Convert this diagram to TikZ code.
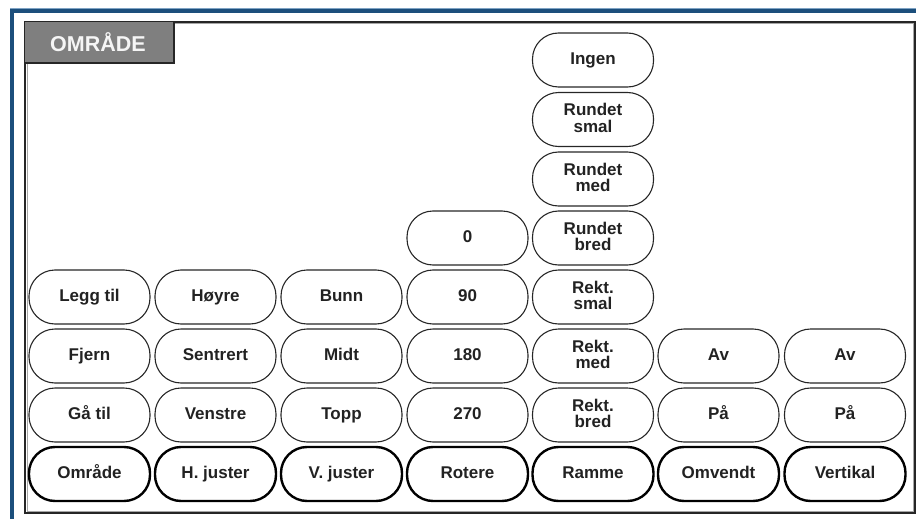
\documentclass[tikz,border=0pt]{standalone}
\usepackage{fontspec}
\setmainfont{Liberation Sans}
\definecolor{frameblue}{HTML}{1C4F7C}
\definecolor{lightblue}{HTML}{7FA3C4}
\definecolor{tabgray}{HTML}{7F7F7F}
\definecolor{txt}{HTML}{222222}
\newcommand\topstrut{\rule{0pt}{13.5pt}}
\newcommand\botstrut{\rule[-4.5pt]{0pt}{4.5pt}}
\begin{document}
\begin{tikzpicture}[x=1pt,y=-1pt,
  btn/.style={draw=black!85, line width=1.1pt, rounded corners=26pt,
    minimum width=121pt, minimum height=54pt, inner sep=0pt, align=center,
    font=\fontsize{17}{16.5}\selectfont\bfseries, text=txt},
  btnmain/.style={btn, draw=black, line width=2.4pt},
  tabtext/.style={font=\fontsize{21.5}{21.5}\selectfont\bfseries, text=white!96!black}
]
\useasboundingbox (0,0) rectangle (916,519);
% blue outer frame (top and left)
\draw[lightblue, line width=1pt] (10,8.5) -- (916,8.5);
\draw[frameblue, line width=4pt] (12,11) -- (916,11);
\draw[frameblue, line width=4pt] (12,9) -- (12,519);
% inner frame
\draw[black!35, line width=1pt] (27,24) rectangle (913,511);
\draw[black!85, line width=1.4pt] (25,22) rectangle (915,513);
% tab
\fill[tabgray] (25,22) rectangle (174,63);
\draw[black!85, line width=1.4pt] (25,63) -- (174,63) -- (174,22);
\node[tabtext] (tab) at (98,42) {OMRÅDE};
% columns x
\def\ca{89.5}\def\cb{215.5}\def\cc{341.5}\def\cd{467.5}\def\ce{593}\def\cf{718.5}\def\cg{845}
% column 1
\node[btn] (leggtil) at (\ca,297) {\topstrut Legg til\botstrut};
\node[btn] (fjern) at (\ca,356) {\topstrut Fjern\botstrut};
\node[btn] (gatil) at (\ca,415) {\topstrut Gå til\botstrut};
\node[btnmain] (omrade) at (\ca,474) {\topstrut Område\botstrut};
% column 2
\node[btn] (hoyre) at (\cb,297) {\topstrut Høyre\botstrut};
\node[btn] (sentrert) at (\cb,356) {\topstrut Sentrert\botstrut};
\node[btn] (venstre) at (\cb,415) {\topstrut Venstre\botstrut};
\node[btnmain] (hjuster) at (\cb,474) {\topstrut H. juster\botstrut};
% column 3
\node[btn] (bunn) at (\cc,297) {\topstrut Bunn\botstrut};
\node[btn] (midt) at (\cc,356) {\topstrut Midt\botstrut};
\node[btn] (topp) at (\cc,415) {\topstrut Topp\botstrut};
\node[btnmain] (vjuster) at (\cc,474) {\topstrut V. juster\botstrut};
% column 4
\node[btn] (r0) at (\cd,238) {\topstrut 0\botstrut};
\node[btn] (r90) at (\cd,297) {\topstrut 90\botstrut};
\node[btn] (r180) at (\cd,356) {\topstrut 180\botstrut};
\node[btn] (r270) at (\cd,415) {\topstrut 270\botstrut};
\node[btnmain] (rotere) at (\cd,474) {\topstrut Rotere\botstrut};
% column 5
\node[btn] (ingen) at (\ce,60) {\topstrut Ingen\botstrut};
\node[btn] (rsmal) at (\ce,119.5) {\topstrut Rundet\\smal\botstrut};
\node[btn] (rmed) at (\ce,179) {\topstrut Rundet\\med\botstrut};
\node[btn] (rbred) at (\ce,238) {\topstrut Rundet\\bred\botstrut};
\node[btn] (ksmal) at (\ce,297) {\topstrut Rekt.\\smal\botstrut};
\node[btn] (kmed) at (\ce,356) {\topstrut Rekt.\\med\botstrut};
\node[btn] (kbred) at (\ce,415) {\topstrut Rekt.\\bred\botstrut};
\node[btnmain] (ramme) at (\ce,474) {\topstrut Ramme\botstrut};
% column 6
\node[btn] (av1) at (\cf,356) {\topstrut Av\botstrut};
\node[btn] (pa1) at (\cf,415) {\topstrut På\botstrut};
\node[btnmain] (omvendt) at (\cf,474) {\topstrut Omvendt\botstrut};
% column 7
\node[btn] (av2) at (\cg,356) {\topstrut Av\botstrut};
\node[btn] (pa2) at (\cg,415) {\topstrut På\botstrut};
\node[btnmain] (vertikal) at (\cg,474) {\topstrut Vertikal\botstrut};
\end{tikzpicture}
\end{document}
